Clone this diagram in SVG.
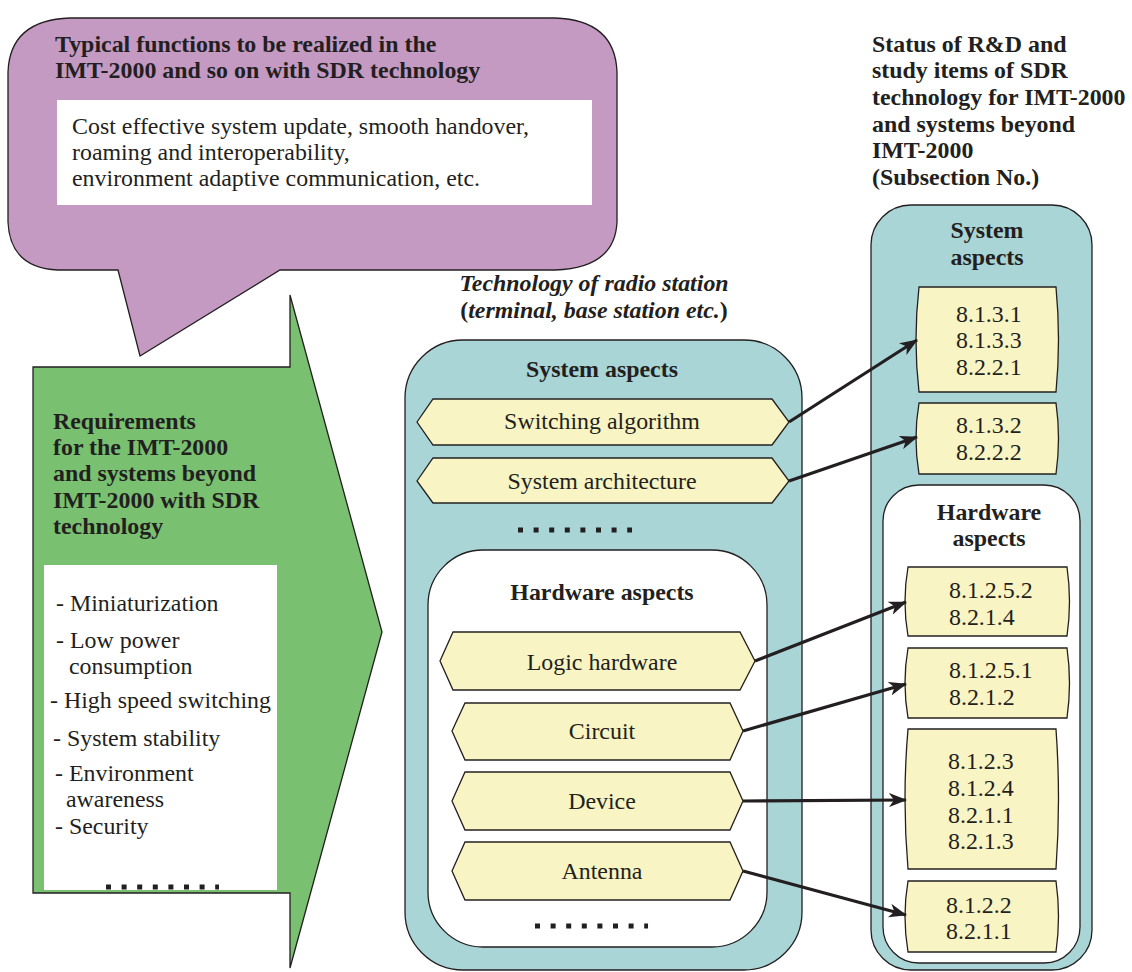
<svg xmlns="http://www.w3.org/2000/svg" width="1132" height="972" viewBox="0 0 1132 972">
  <style>
    text { font-family: "Liberation Serif", "Times New Roman", serif; font-size: 23.9px; fill: #231f20; }
    .b { font-weight: bold; }
    .bi { font-weight: bold; font-style: italic; }
    .mid { text-anchor: middle; }
    .edge { stroke: #231f20; stroke-width: 1.3; }
    .purple { fill: #c49ac3; }
    .green { fill: #79c170; }
    .teal { fill: #a9d5d6; }
    .white { fill: #ffffff; }
    .yellow { fill: #f8f4c3; }
    .dots { stroke: #231f20; stroke-width: 5; stroke-dasharray: 5 10.6; fill: none; }
    .conn { stroke: #231f20; stroke-width: 3.2; fill: none; marker-end: url(#arrow); }
  </style>
  <defs>
    <marker id="arrow" markerUnits="userSpaceOnUse" viewBox="0 0 18 14" markerWidth="18" markerHeight="14" refX="17" refY="7" orient="auto">
      <path d="M0,0 L18,7 L0,14 L5,7 Z" fill="#231f20"/>
    </marker>
  </defs>

  <!-- Speech bubble: typical functions -->
  <g id="functions">
    <path class="purple edge" d="M70,18 L555,18 Q615,20 617,72 L617,222 Q615,268 555,270 L280,270 L140,356 L118,270 L58,270 Q10,268 8,222 L8,72 Q10,20 70,18 Z"/>
    <text class="b" x="55" y="52">Typical functions to be realized in the</text>
    <text class="b" x="55" y="78">IMT-2000 and so on with SDR technology</text>
    <rect class="white" x="57" y="100" width="535" height="105"/>
    <text x="72" y="134">Cost effective system update, smooth handover,</text>
    <text x="72" y="160">roaming and interoperability,</text>
    <text x="72" y="186">environment adaptive communication, etc.</text>
  </g>

  <!-- Big arrow: requirements -->
  <g id="requirements">
    <path class="green edge" d="M33,367 L290,367 L290,295 L382,632 L290,968 L290,893 L33,893 Z"/>
    <text class="b" x="53" y="429">Requirements</text>
    <text class="b" x="53" y="455">for the IMT-2000</text>
    <text class="b" x="53" y="481">and systems beyond</text>
    <text class="b" x="53" y="508">IMT-2000 with SDR</text>
    <text class="b" x="53" y="534">technology</text>
    <rect class="white" x="44" y="565" width="233" height="325"/>
    <text x="56" y="611">- Miniaturization</text>
    <text x="56" y="648">- Low power</text>
    <text x="69" y="674">consumption</text>
    <text x="50" y="708">- High speed switching</text>
    <text x="53" y="746">- System stability</text>
    <text x="55" y="781">- Environment</text>
    <text x="66" y="807">awareness</text>
    <text x="55" y="834">- Security</text>
    <line class="dots" x1="106" y1="887" x2="219" y2="887"/>
  </g>

  <!-- Radio station technology -->
  <g id="radio-station">
    <text class="bi mid" x="594" y="291">Technology of radio station</text>
    <text class="b mid" x="594" y="318">(<tspan class="bi">terminal, base station etc.</tspan>)</text>
    <rect class="teal edge" x="405" y="340" width="397" height="630" rx="58" ry="58"/>
    <text class="b mid" x="602" y="377">System aspects</text>
    <line class="dots" x1="518" y1="530" x2="632" y2="530"/>
    <rect class="white edge" x="428" y="550" width="339" height="397" rx="55" ry="55"/>
    <text class="b mid" x="602" y="600">Hardware aspects</text>
    <line class="dots" x1="535" y1="926" x2="648" y2="926"/>
  </g>

  <g id="switching-algorithm">
    <path class="yellow edge" d="M417,422 L433,399 L772,399 L789,422 L772,445 L433,445 Z"/>
    <text class="mid" x="602" y="429">Switching algorithm</text>
  </g>
  <g id="system-architecture">
    <path class="yellow edge" d="M417,481 L433,458 L772,458 L789,481 L772,503 L433,503 Z"/>
    <text class="mid" x="602" y="489">System architecture</text>
  </g>
  <g id="logic-hardware">
    <path class="yellow edge" d="M440,661 L453,632 L740,632 L755,661 L740,690 L453,690 Z"/>
    <text class="mid" x="602" y="670">Logic hardware</text>
  </g>
  <g id="circuit">
    <path class="yellow edge" d="M452,731 L465,703 L730,703 L743,731 L730,760 L465,760 Z"/>
    <text class="mid" x="602" y="739">Circuit</text>
  </g>
  <g id="device">
    <path class="yellow edge" d="M452,801 L465,772 L730,772 L743,801 L730,830 L465,830 Z"/>
    <text class="mid" x="602" y="809">Device</text>
  </g>
  <g id="antenna">
    <path class="yellow edge" d="M452,871 L465,842 L730,842 L743,871 L730,900 L465,900 Z"/>
    <text class="mid" x="602" y="879">Antenna</text>
  </g>

  <!-- Subsection status column -->
  <g id="status">
    <text class="b" x="872" y="52">Status of R&amp;D and</text>
    <text class="b" x="872" y="78">study items of SDR</text>
    <text class="b" x="872" y="105">technology for IMT-2000</text>
    <text class="b" x="872" y="132">and systems beyond</text>
    <text class="b" x="872" y="158">IMT-2000</text>
    <text class="b" x="872" y="185">(Subsection No.)</text>
    <rect class="teal edge" x="871" y="205" width="221" height="765" rx="40" ry="40"/>
    <text class="b mid" x="987" y="238">System</text>
    <text class="b mid" x="987" y="265">aspects</text>
    <rect class="white edge" x="883" y="485" width="197" height="478" rx="36" ry="36"/>
    <text class="b mid" x="989" y="520">Hardware</text>
    <text class="b mid" x="989" y="546">aspects</text>
  </g>

  <g id="sub-8131">
    <path class="yellow edge" d="M919,287 L1056,287 Q1061,339.5 1056,392 L919,392 Q913,339.5 919,287 Z"/>
    <text x="956" y="322">8.1.3.1</text>
    <text x="956" y="348">8.1.3.3</text>
    <text x="956" y="375">8.2.2.1</text>
  </g>
  <g id="sub-8132">
    <path class="yellow edge" d="M919,403 L1056,403 Q1061,438.5 1056,474 L919,474 Q913,438.5 919,403 Z"/>
    <text x="956" y="433">8.1.3.2</text>
    <text x="956" y="460">8.2.2.2</text>
  </g>
  <g id="sub-81252">
    <path class="yellow edge" d="M908,567 L1067,567 Q1072,601.5 1067,636 L908,636 Q902,601.5 908,567 Z"/>
    <text x="949" y="598">8.1.2.5.2</text>
    <text x="949" y="625">8.2.1.4</text>
  </g>
  <g id="sub-81251">
    <path class="yellow edge" d="M908,648 L1067,648 Q1072,683 1067,718 L908,718 Q902,683 908,648 Z"/>
    <text x="949" y="678">8.1.2.5.1</text>
    <text x="949" y="705">8.2.1.2</text>
  </g>
  <g id="sub-8123">
    <path class="yellow edge" d="M908,729 L1056,729 Q1061,799 1056,869 L908,869 Q902,799 908,729 Z"/>
    <text x="948" y="769">8.1.2.3</text>
    <text x="948" y="796">8.1.2.4</text>
    <text x="948" y="823">8.2.1.1</text>
    <text x="948" y="849">8.2.1.3</text>
  </g>
  <g id="sub-8122">
    <path class="yellow edge" d="M908,881 L1056,881 Q1061,916.5 1056,952 L908,952 Q902,916.5 908,881 Z"/>
    <text x="946" y="913">8.1.2.2</text>
    <text x="946" y="939">8.2.1.1</text>
  </g>

  <!-- Connectors -->
  <g id="connectors">
    <line class="conn" x1="789" y1="422" x2="917" y2="340"/>
    <line class="conn" x1="789" y1="481" x2="917" y2="437"/>
    <line class="conn" x1="755" y1="661" x2="906" y2="602"/>
    <line class="conn" x1="743" y1="731" x2="906" y2="684"/>
    <line class="conn" x1="743" y1="801" x2="906" y2="800"/>
    <line class="conn" x1="743" y1="871" x2="906" y2="915"/>
  </g>
</svg>
